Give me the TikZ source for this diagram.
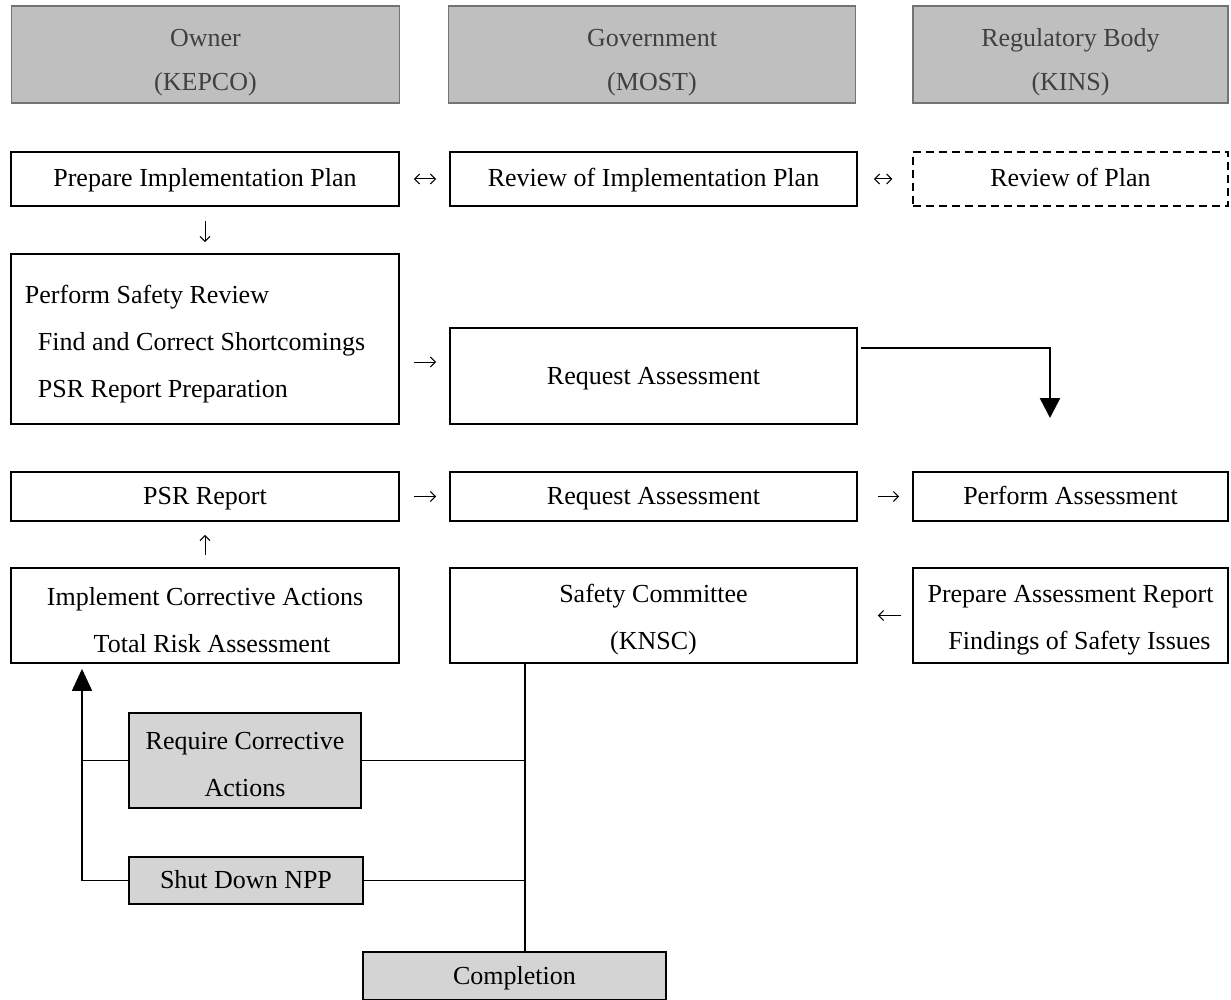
\documentclass[tikz,border=0pt]{standalone}
\usepackage{fontspec}
\setmainfont{Liberation Serif}
\usetikzlibrary{arrows.meta, positioning, calc}

\newcommand{\topgap}[1]{\rule{0pt}{#1}}

\tikzset{
  box/.style={draw, line width=.9pt, align=center, inner sep=2pt},
  single/.style={text height=11pt, text depth=3pt},
  head/.style={draw=black!55, line width=.6pt, fill=black!25, text=black!75, align=center, minimum height=47.5pt},
  shade/.style={box, fill=black!17},
  colA/.style={minimum width=194pt},
  colB/.style={minimum width=203.5pt},
  colC/.style={minimum width=157.5pt},
  flow/.style 2 args={line width=.5pt, shorten <=#1, shorten >=#2},
  link/.style={line width=.9pt},
}

\begin{document}
\begin{tikzpicture}[x=.5pt, y=-.5pt, >={Straight Barb[length=2.5pt,width=5pt]},
  font=\fontsize{13}{23.5}\selectfont]
\useasboundingbox (0,0) rectangle (1231,1000);
% column heads
\node[head, colA] (owner) at (205.5,54.5) {\topgap{17pt}Owner\\[-1.5pt](KEPCO)};
\node[head, colB] (gov) at (652,54.5) {\topgap{17pt}Government\\[-1.5pt](MOST)};
\node[head, colC] (reg) at (1070.5,54.5) {\topgap{17pt}Regulatory Body\\[-1.5pt](KINS)};

% plan
\node[box, single, colA, minimum height=27pt] (prep) at (205,179) {Prepare Implementation Plan};
\node[box, single, colB, minimum height=27pt] (revimpl) at (653.5,179) {Review of Implementation Plan};
\node[box, single, colC, minimum height=27pt, line width=.6pt, dash pattern=on 4pt off 2.5pt] (revplan) at (1070.5,179) {Review of Plan};

\node[box, colA, minimum height=85pt, text width=180pt, align=flush left, inner sep=7pt] (perf) at (205,339)
  {\topgap{14pt}Perform Safety Review\\
   \hspace*{6.5pt}Find and Correct Shortcomings\\
   \hspace*{6.5pt}PSR Report Preparation};
\node[box, single, colB, minimum height=48pt] (req1) at (653.5,376) {Request Assessment};

% assessment
\node[box, single, colA, minimum height=24.5pt] (psr) at (205,496.5) {PSR Report};
\node[box, single, colB, minimum height=24.5pt] (req2) at (653.5,496.5) {Request Assessment};
\node[box, single, colC, minimum height=24.5pt] (pass) at (1070.5,496.5) {Perform Assessment};

\node[box, colA, minimum height=47.5pt] (impl) at (205,615.5) {\topgap{13.5pt}Implement Corrective Actions\\\hspace*{7pt}Total Risk Assessment};
\node[box, colB, minimum height=47.5pt] (ksc) at (653.5,615.5) {\topgap{13.5pt}Safety Committee\\(KNSC)};
\node[box, colC, minimum height=47.5pt] (prepass) at (1070.5,615.5) {\topgap{13.5pt}Prepare Assessment Report\\\hspace*{9pt}Findings of Safety Issues};

% decisions
\node[shade, minimum width=116pt, minimum height=47.5pt] (reqca) at (245,760.5) {\topgap{12.5pt}Require Corrective\\Actions};
\node[shade, single, minimum width=117pt, minimum height=23.5pt] (shut) at (246,880.5) {Shut Down NPP};
\node[shade, single, minimum width=151.5pt, minimum height=24pt] (compl) at (514.5,976) {Completion};

\coordinate (arrowy) at (0,362);
\coordinate (bend) at (1050,348);
\coordinate (drop) at (1050,418);
\coordinate (trunk) at (525,700);
\coordinate (rail) at (82,700);

% small arrows
\draw[<->, flow={7pt}{6.5pt}] (prep) -- (revimpl);
\draw[<->, flow={8pt}{10pt}] (revimpl) -- (revplan);
\draw[->, flow={7pt}{5.5pt}] (prep) -- (perf);
\draw[->, flow={7pt}{6.5pt}] (perf.east |- arrowy) -- (req1.west |- arrowy);
\draw[->, flow={7pt}{6.5pt}] (psr) -- (req2);
\draw[->, flow={10pt}{6.5pt}] (req2) -- (pass);
\draw[->, flow={6pt}{6.5pt}] (impl) -- (psr);
\draw[->, flow={5.5pt}{10pt}] (prepass) -- (ksc);

% thick lines
\draw[line width=1.3pt, -{Triangle[width=10pt,length=10pt]}] ([xshift=1.5pt]req1.east |- bend) -- (bend) -- (drop);
\draw[link] (ksc.south -| trunk) -- (compl.north -| trunk);
\draw[link] (reqca.east) -- (reqca.east -| trunk);
\draw[link] (shut.east) -- (shut.east -| trunk);
\draw[link] (reqca.west) -- (reqca.west -| rail);
\draw[link, -{Triangle[width=10pt,length=11pt]}] (shut.west) -- (shut.west -| rail) -- ([yshift=-2.5pt]impl.south -| rail);
\end{tikzpicture}
\end{document}
